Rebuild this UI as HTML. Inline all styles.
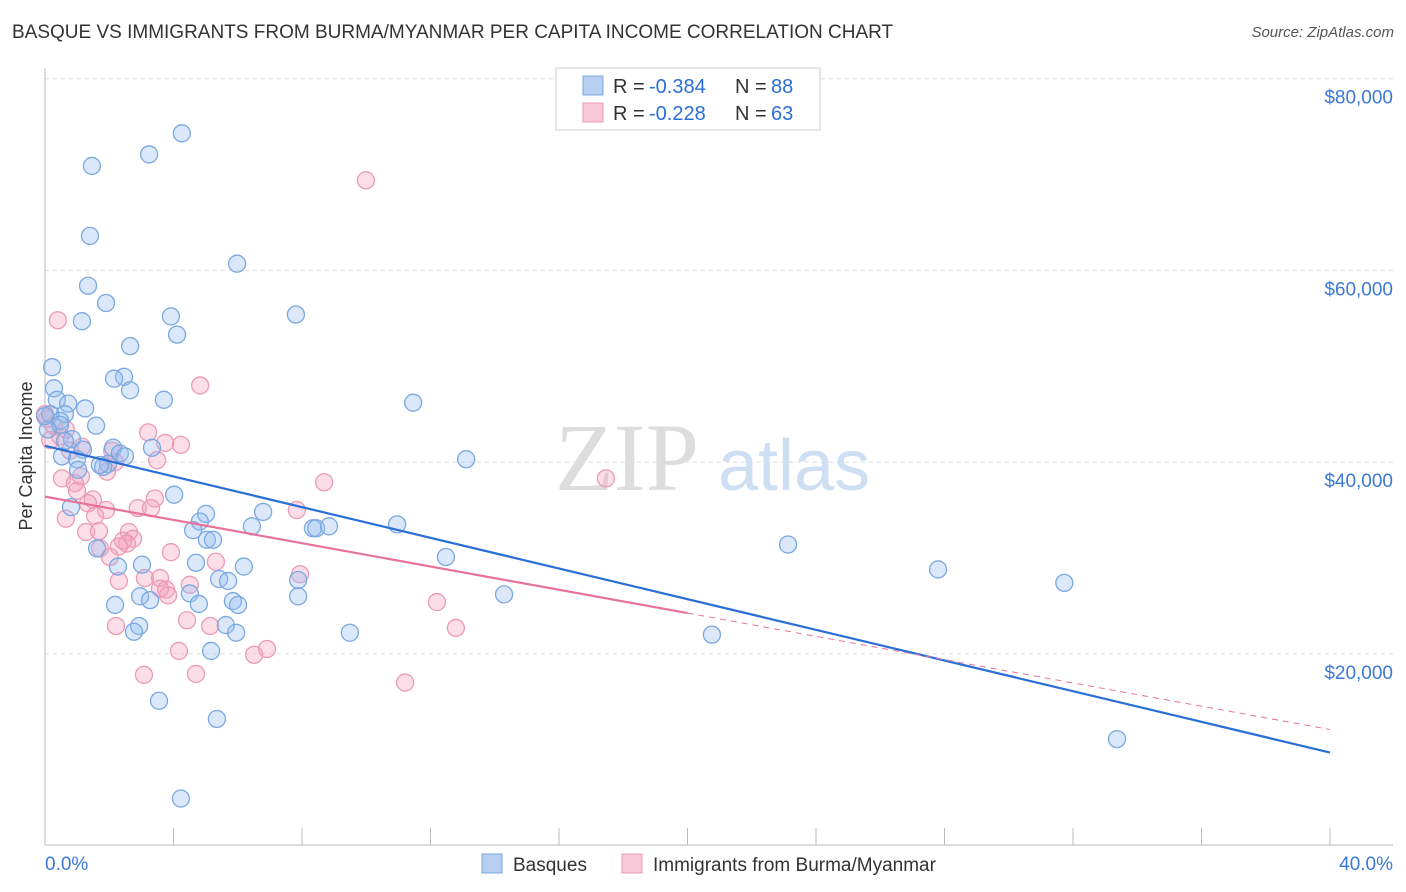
<!DOCTYPE html>
<html><head><meta charset="utf-8">
<style>
body{margin:0;background:#fff;font-family:"Liberation Sans",sans-serif;}
#wrap{position:relative;width:1406px;height:892px;overflow:hidden;}
.t{position:absolute;white-space:nowrap;}
</style></head>
<body>
<div id="wrap">
<div class="t" style="left:12px;top:22px;font-size:19px;color:#333;">BASQUE VS IMMIGRANTS FROM BURMA/MYANMAR PER CAPITA INCOME CORRELATION CHART</div>
<div class="t" style="right:12px;top:24px;font-size:15px;color:#555;font-style:italic;">Source: ZipAtlas.com</div>
<svg id="chart" width="1406" height="892" style="position:absolute;left:0;top:0;"></svg>
</div>
<script>
const xTicks=[0,4,8,12,16,20,24,28,32,36,40];
const yTicks=[20000,40000,60000,80000];
const yTickLabels=["$20,000","$40,000","$60,000","$80,000"];
const basqueX=[4.26,3.24,1.46,1.40,5.98,1.34,1.90,1.15,3.92,7.81,4.11,2.65,0.22,2.46,2.15,2.65,0.28,3.70,11.46,0.37,0.72,1.25,0.62,0.16,1.59,0.47,3.33,0.84,1.18,2.12,2.33,0.53,0.996,13.11,1.96,1.81,1.03,4.02,0.81,5.01,6.79,4.82,6.44,8.34,8.44,8.84,10.96,4.61,5.04,5.23,1.62,23.13,12.48,3.02,2.27,4.70,6.19,27.80,7.88,5.42,5.70,31.73,2.18,2.96,3.27,4.51,4.79,5.85,6.01,7.88,14.29,2.93,2.77,5.63,5.95,9.49,20.76,5.17,3.55,5.35,33.37,4.23,1.71,0.47,0.09,2.49,0.62,0.0];
const basqueY=[74300,72100,70900,63600,60700,58400,56600,54700,55200,55400,53300,52100,49900,48900,48700,47500,47700,46500,46200,46500,46100,45600,45000,45000,43800,44300,41500,42400,41300,41500,40900,40600,40300,40300,39800,39500,39200,36600,35300,34600,34800,33800,33300,33100,33100,33300,33500,32900,31900,31900,31000,31400,30100,29300,29100,29500,29100,28800,27700,27800,27600,27400,25100,26000,25600,26300,25200,25500,25100,26000,26200,22900,22300,23000,22200,22200,22000,20300,15100,13200,11100,4900,39700,43900,43400,40600,42200,44800];
const burmaX=[9.99,0.40,4.83,0.0,0.28,0.65,0.47,0.16,4.23,3.74,3.21,1.15,3.49,2.18,1.93,1.12,0.53,0.93,8.69,17.46,0.996,1.49,3.42,1.34,1.90,7.84,2.89,0.65,3.30,1.56,1.28,1.68,2.61,2.74,2.43,2.55,2.30,1.71,5.32,2.02,3.92,7.94,3.11,2.30,3.58,3.58,4.51,3.77,3.83,12.20,4.42,2.21,12.79,5.14,4.17,6.91,6.51,3.08,4.70,11.21,0.06,0.78,2.09];
const burmaY=[69400,54800,48000,45000,43800,43400,42700,42300,41800,42000,43100,41600,40200,40000,39000,38500,38300,37800,37900,38300,37000,36100,36200,35700,35000,35000,35200,34100,35200,34400,32700,32800,32700,32000,31800,31500,31200,31000,29600,30100,30600,28300,27900,27600,27900,26800,27200,26700,26100,25400,23500,22900,22700,22900,20300,20500,19900,17800,17900,17000,44500,41200,41200];
const blueFit=[41700,9700], pinkFit=[36400,12100];
const svg=document.getElementById('chart');const NS='http://www.w3.org/2000/svg';
const X=v=>45+v*32.125, Y=v=>845.5-v*0.009585;
function el(tag,a,p){const e=document.createElementNS(NS,tag);for(const k in a)e.setAttribute(k,a[k]);(p||svg).appendChild(e);return e;}
yTicks.forEach((v,i)=>{const g=el('line',{x1:45,x2:1393,y1:Y(v),y2:Y(v),stroke:'#ddd','stroke-dasharray':'4,4'});


const t=el('text',{x:1393,y:Y(v)+25,'text-anchor':'end','font-size':19,fill:'#3b78d8'});t.textContent=yTickLabels[i];

});
const ax=el('line',{x1:45,x2:1393,y1:845,y2:845,stroke:'#bbb'});


const ay=el('line',{x1:45,x2:45,y1:68,y2:845,stroke:'#bbb'});


xTicks.forEach(v=>{const l=el('line',{x1:X(v),x2:X(v),y1:828,y2:845,stroke:'#bbb'});

});
const tl=el('text',{x:45,y:870,'font-size':19,fill:'#3b78d8'});tl.textContent='0.0%';


const tr=el('text',{x:1393,y:870,'font-size':19,fill:'#3b78d8','text-anchor':'end'});tr.textContent='40.0%';


const yt=el('text',{x:32,y:456,'font-size':18,fill:'#333','text-anchor':'middle',transform:'rotate(-90 32 456)'});yt.textContent='Per Capita Income';


const w1=el('text',{x:555,y:490,'font-size':96,fill:'#ddd','font-family':'Liberation Serif'});w1.textContent='ZIP';


const w2=el('text',{x:718,y:490,'font-size':72,fill:'#cfdff3'});w2.textContent='atlas';


burmaX.forEach((x,i)=>{const c=el('circle',{cx:X(x),cy:Y(burmaY[i]),r:8.5,fill:'rgba(244,160,190,0.35)',stroke:'#ec9ab6','stroke-width':1.3});

});
basqueX.forEach((x,i)=>{const c=el('circle',{cx:X(x),cy:Y(basqueY[i]),r:8.5,fill:'rgba(150,190,240,0.35)',stroke:'#7aa8e0','stroke-width':1.3});

});
const bl=el('line',{x1:X(0),y1:Y(blueFit[0]),x2:X(40),y2:Y(blueFit[1]),stroke:'#2a6fd6','stroke-width':2.2});


const pm=v=>pinkFit[0]+(pinkFit[1]-pinkFit[0])*v/40;
const pl=el('line',{x1:X(0),y1:Y(pm(0)),x2:X(20),y2:Y(pm(20)),stroke:'#e8739a','stroke-width':2.2});


const pd=el('line',{x1:X(20),y1:Y(pm(20)),x2:X(40),y2:Y(pm(40)),stroke:'#e8739a','stroke-width':1,'stroke-dasharray':'6,5'});


const lg=el('g',{});


el('rect',{x:556,y:68,width:264,height:62,fill:'#fff',stroke:'#ccc'},lg);
el('rect',{x:583,y:76,width:20,height:19,fill:'#b7d0f2',stroke:'#7aa8e0'},lg);
el('rect',{x:583,y:103,width:20,height:19,fill:'#f8c8d8',stroke:'#ec9ab6'},lg);
[[93,'-0.384','88'],[120,'-0.228','63']].forEach(r=>{
const t=el('text',{x:613,y:r[0],'font-size':20,fill:'#333'},lg);
t.innerHTML='R = <tspan x="649" fill="#2a6fd6">'+r[1]+'</tspan><tspan x="735">N = </tspan><tspan x="771" fill="#2a6fd6">'+r[2]+'</tspan>';});
const b1=el('rect',{x:482,y:854,width:20,height:19,fill:'#b7d0f2',stroke:'#7aa8e0'});


const bt1=el('text',{x:513,y:871,'font-size':19,fill:'#333'});bt1.textContent='Basques';


const b2=el('rect',{x:622,y:854,width:20,height:19,fill:'#f8c8d8',stroke:'#ec9ab6'});


const bt2=el('text',{x:653,y:871,'font-size':19,fill:'#333'});bt2.textContent='Immigrants from Burma/Myanmar';


</script>
</body></html>
